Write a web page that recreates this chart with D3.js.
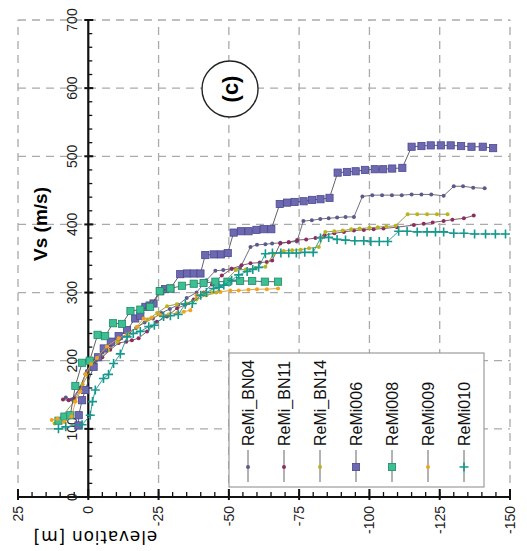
<!DOCTYPE html>
<html>
<head>
<meta charset="utf-8">
<script src="https://cdn.jsdelivr.net/npm/d3@7"></script>
<style>
  body { margin: 0; background: #fff; }
  svg { display: block; font-family: "Liberation Sans", Arial, sans-serif; }
</style>
</head>
<body>
<svg id="chart"></svg>
<script>
// Series as [elevation (m), Vs (m/s)] pairs
const reMiBN04 = [[8,146],[6,143],[3,160],[0.5,185],[-2,200],[-5,212],[-8,222],[-11,232],[-14,240],[-17,248],[-20,256],[-23,262],[-26,270],[-29,276],[-32,282],[-35,292],[-38.5,300],[-42,318],[-45.2,332],[-48,333],[-51,335],[-54,336],[-57.7,367],[-60,370],[-63,371],[-65.4,372],[-68.3,373],[-71.3,374],[-74.2,375],[-76.5,405],[-79.5,406],[-82.5,408],[-85.5,409],[-88.5,410],[-91.5,411],[-94.5,411],[-97.5,441],[-101,443],[-104.5,443],[-108,443],[-111.5,443],[-115,444],[-118.5,444],[-122,444],[-126.4,442],[-130,456],[-133.3,456],[-136.9,454],[-141,453]];
const reMiBN11 = [[9,143],[7,142],[5,145],[3,160],[1,180],[-2,195],[-5,205],[-7.8,216],[-10.8,226],[-13.5,228],[-15.5,230],[-17.9,233],[-20.9,243],[-24.4,257],[-28,265],[-31.6,277],[-34.5,282],[-37.5,290],[-41,300],[-44,312],[-47.5,325],[-51,335],[-54.5,340],[-57.7,343],[-61,344],[-63.5,345],[-65.4,347],[-68.3,372],[-71.3,374],[-74.3,377],[-77.5,378],[-80.8,380],[-84,384],[-87.5,387],[-90.9,389],[-94.5,391],[-98,392],[-101.5,393],[-105,394],[-109.8,396],[-115.8,399],[-119.3,401],[-122.5,403],[-126.4,405],[-129.5,407],[-133.6,409],[-137.1,413]];
const reMiBN14 = [[12,108],[9,120],[5,140],[2,165],[-1,188],[-4,202],[-7,215],[-10.5,228],[-14,238],[-17.5,250],[-21,260],[-24.5,270],[-28,280],[-31.5,283],[-35,284],[-38.5,290],[-42,296],[-45.5,300],[-49,318],[-52.5,333],[-56,334],[-59.5,336],[-63,338],[-66,357],[-69.5,361],[-72.5,362],[-75.5,363],[-78.5,365],[-82,367],[-84.3,389],[-87.5,390],[-90.5,391],[-93.5,393],[-96.5,394],[-100,395],[-103,396],[-106,397],[-109.3,398],[-113.6,415],[-117,415],[-120.5,415],[-124,415],[-127.8,415]];
const reMi006 = [[3.5,105],[3.4,120],[2.2,142],[1.1,157],[-1.9,191],[-3.5,205],[-5.5,218],[-8,228],[-10.8,236],[-13.8,245],[-16.7,262],[-18.5,266],[-20.3,279],[-21.8,281],[-23.2,284],[-25.6,302],[-27.3,305],[-29.2,306],[-32.7,327],[-35.1,328],[-37.5,328],[-39.9,328],[-41.6,355],[-44.6,356],[-47.2,356],[-49.6,358],[-51.7,388],[-54.3,390],[-57,390],[-59.8,392],[-62.4,393],[-65.1,393],[-68.1,430],[-70.7,432],[-73.4,433],[-76.6,434],[-79.6,436],[-82.6,437],[-85.8,439],[-88.7,476],[-92,477],[-95.1,478],[-98.4,480],[-101.9,481],[-104.9,481],[-108.1,482],[-111.7,483],[-115,514],[-118.5,515],[-121.8,516],[-125.4,516],[-128.9,516],[-132.6,515],[-136.3,514],[-140.3,514],[-144,512]];
const reMi008 = [[10.6,112],[8.5,118],[6.4,120],[4.6,163],[2.2,197],[-0.5,200],[-3.3,238],[-6,236],[-8.8,255],[-12,254],[-15,273],[-18.5,275],[-22,279],[-25.4,302],[-29.2,306],[-33.3,310],[-37.5,313],[-41,314],[-45.2,316],[-49.5,316],[-54,317],[-58.3,317],[-62.8,316],[-67.5,316]];
const reMi009 = [[13,113],[11,115],[8.5,110],[6,118],[4.5,140],[2.8,155],[1,180],[-1,195],[-3.1,204],[-6.6,221],[-10.8,233],[-13.8,239],[-17.3,250],[-19.7,262],[-22.5,263],[-25.6,267],[-28.5,268],[-31.6,270],[-34,272],[-36.3,274],[-38.5,296],[-41,299],[-44,300],[-47,301],[-50.5,303],[-53.5,303],[-57,304],[-60,305],[-63.5,305],[-67.5,306]];
const reMi010 = [[10.6,100],[8,103],[2.2,106],[-0.7,120],[-1.5,140],[-2.5,157],[-5.4,174],[-7.2,180],[-9,196],[-11.4,210],[-13.8,235],[-16,240],[-18.5,243],[-21.5,250],[-23.5,252],[-26.8,265],[-29.2,266],[-32,268],[-34.5,283],[-37,284],[-40,296],[-42,300],[-44.6,306],[-46.5,308],[-48.2,311],[-51,318],[-53.5,326],[-56.5,331],[-58.5,334],[-60.6,337],[-63,357],[-65.5,358],[-68.5,358],[-71.3,358],[-74,358],[-77,359],[-80,359],[-82.6,380],[-85.5,381],[-88.5,378],[-91.5,377],[-94.8,376],[-98,376],[-100.5,375],[-103.5,375],[-106.5,375],[-110.4,390],[-113.4,390],[-117,389],[-120.5,389],[-123.5,389],[-126.4,389],[-130,387],[-133.6,387],[-137.4,386],[-141.3,386],[-144.8,386],[-148.4,386]];

const seriesNames = ["ReMi_BN04", "ReMi_BN11", "ReMi_BN14", "ReMi006", "ReMi008", "ReMi009", "ReMi010"];
const seriesData = [reMiBN04, reMiBN11, reMiBN14, reMi006, reMi008, reMi009, reMi010];

const elevTicks = [25, 0, -25, -50, -75, -100, -125, -150];
const vsTicks = [0, 100, 200, 300, 400, 500, 600, 700];

// marker style per series (kept apart from the values)
const styles = {
  "ReMi_BN04": { shape: "dot",    fill: "#5b5a8c", line: "#5f5f70" },
  "ReMi_BN11": { shape: "dot",    fill: "#8b2d5e", line: "#74485e" },
  "ReMi_BN14": { shape: "dot",    fill: "#b9b51a", line: "#8f8f3a" },
  "ReMi006":   { shape: "square", fill: "#6d69b0", stroke: "#4b4890", line: "#505050" },
  "ReMi008":   { shape: "square", fill: "#3cbf92", stroke: "#1f8a66", line: "#505050" },
  "ReMi009":   { shape: "dot",    fill: "#f2a31b", line: "#d89a3a" },
  "ReMi010":   { shape: "plus",   fill: "#17988e", line: "#17988e" }
};

const W = 527, H = 551;

const svg = d3.select("#chart").attr("width", W).attr("height", H);

const x = d3.scaleLinear().domain([25, -150]).range([18, 510]);
const y = d3.scaleLinear().domain([0, 700]).range([497, 20]);

// dashed grid
const grid = svg.append("g").attr("stroke", "#aaa").attr("stroke-width", 1.3).attr("stroke-dasharray", "8,6");
grid.selectAll(".vg").data(elevTicks.filter(d => d !== 0)).join("line")
  .attr("x1", d => x(d)).attr("x2", d => x(d))
  .attr("y1", y(0)).attr("y2", y(700));
grid.selectAll(".hg").data(vsTicks.filter(d => d !== 0)).join("line")
  .attr("x1", x(25)).attr("x2", x(-150))
  .attr("y1", d => y(d)).attr("y2", d => y(d));

// axes (drawn by hand so ticks can cross the line)
const axes = svg.append("g").attr("stroke", "#111");
axes.append("line").attr("x1", x(0)).attr("x2", x(0)).attr("y1", y(0)).attr("y2", y(700)).attr("stroke-width", 2.2);
axes.append("line").attr("x1", x(25)).attr("x2", x(-150)).attr("y1", y(0)).attr("y2", y(0)).attr("stroke-width", 2.2);

axes.selectAll(".vsminor").data(d3.range(0, 701, 20)).join("line")
  .attr("x1", x(0)).attr("x2", x(0) + 4)
  .attr("y1", d => y(d)).attr("y2", d => y(d)).attr("stroke-width", 1.3);
axes.selectAll(".vsmajor").data(vsTicks).join("line")
  .attr("x1", x(0) - 4).attr("x2", x(0) + 5)
  .attr("y1", d => y(d)).attr("y2", d => y(d)).attr("stroke-width", 2);

axes.selectAll(".elminor").data(d3.range(25, -151, -5)).join("line")
  .attr("x1", d => x(d)).attr("x2", d => x(d))
  .attr("y1", y(0)).attr("y2", y(0) - 5).attr("stroke-width", 1.3);
axes.selectAll(".elmajor").data(elevTicks).join("line")
  .attr("x1", d => x(d)).attr("x2", d => x(d))
  .attr("y1", y(0) + 3).attr("y2", y(0) - 8).attr("stroke-width", 2);

// tick labels, rotated like the figure
svg.append("g").selectAll("text").data(vsTicks).join("text")
  .attr("transform", d => `translate(${x(0) - 16},${y(d)}) rotate(-90)`)
  .attr("text-anchor", "middle").attr("dy", "0.35em")
  .attr("font-size", 14).attr("fill", "#222")
  .text(d => d);

svg.append("g").selectAll("text").data(elevTicks).join("text")
  .attr("transform", d => `translate(${x(d)},${y(0) + 9}) rotate(-90)`)
  .attr("text-anchor", "end").attr("dy", "0.35em")
  .attr("font-size", 14).attr("fill", "#222")
  .text(d => String(d));

// axis titles
svg.append("text")
  .attr("transform", "translate(40,224) rotate(-90)")
  .attr("text-anchor", "middle").attr("dy", "0.35em")
  .attr("font-size", 19).attr("font-weight", "bold")
  .text("Vs (m/s)");

svg.append("text")
  .attr("transform", "translate(95,537) rotate(180)")
  .attr("text-anchor", "middle").attr("dy", "0.35em")
  .attr("font-family", "DejaVu Sans").attr("font-size", 17).attr("letter-spacing", 0.8)
  .text("elevation [m]");

// lines + markers
const line = d3.line().x(d => x(d[0])).y(d => y(d[1]));

function drawMarkers(g, data, st, cx, cy) {
  if (st.shape === "square") {
    g.selectAll("rect").data(data).join("rect")
      .attr("x", d => cx(d) - 3.6).attr("y", d => cy(d) - 3.6)
      .attr("width", 7.2).attr("height", 7.2)
      .attr("fill", st.fill).attr("stroke", st.stroke).attr("stroke-width", 0.8);
  } else if (st.shape === "plus") {
    g.selectAll("path").data(data).join("path")
      .attr("d", d => `M${cx(d) - 4.5},${cy(d)}H${cx(d) + 4.5}M${cx(d)},${cy(d) - 4.5}V${cy(d) + 4.5}`)
      .attr("stroke", st.fill).attr("stroke-width", 1.6);
  } else {
    g.selectAll("circle").data(data).join("circle")
      .attr("cx", cx).attr("cy", cy).attr("r", 2)
      .attr("fill", st.fill);
  }
}

const plot = svg.append("g");
seriesNames.forEach((name, i) => {
  const st = styles[name];
  const g = plot.append("g");
  g.append("path").datum(seriesData[i])
    .attr("d", line).attr("fill", "none")
    .attr("stroke", st.line).attr("stroke-width", 0.9);
  drawMarkers(g.append("g"), seriesData[i], st, d => x(d[0]), d => y(d[1]));
});

// panel label
const lab = svg.append("g").attr("transform", "translate(230,89)");
lab.append("circle").attr("r", 28).attr("fill", "#fff").attr("stroke", "#222").attr("stroke-width", 1.4);
lab.append("text").attr("transform", "rotate(-90)")
  .attr("text-anchor", "middle").attr("dy", "0.35em")
  .attr("font-size", 22).attr("font-weight", "bold")
  .text("(c)");

// legend
const legend = svg.append("g");
legend.append("rect")
  .attr("x", 229).attr("y", 353).attr("width", 255).attr("height", 134)
  .attr("fill", "#fff").attr("stroke", "#888").attr("stroke-width", 1);

const legendX = d3.scalePoint().domain(seriesNames).range([248, 464]);
seriesNames.forEach(name => {
  const st = styles[name];
  const lx = legendX(name);
  const g = legend.append("g");
  g.append("line").attr("x1", lx).attr("x2", lx).attr("y1", 450).attr("y2", 482)
    .attr("stroke", "#666").attr("stroke-width", 1);
  drawMarkers(g.append("g"), [0], st, () => lx, () => 467);
  g.append("text")
    .attr("transform", `translate(${lx},446) rotate(-90)`)
    .attr("dy", "0.35em").attr("font-size", 16).attr("fill", "#111")
    .text(name);
});
</script>
</body>
</html>
